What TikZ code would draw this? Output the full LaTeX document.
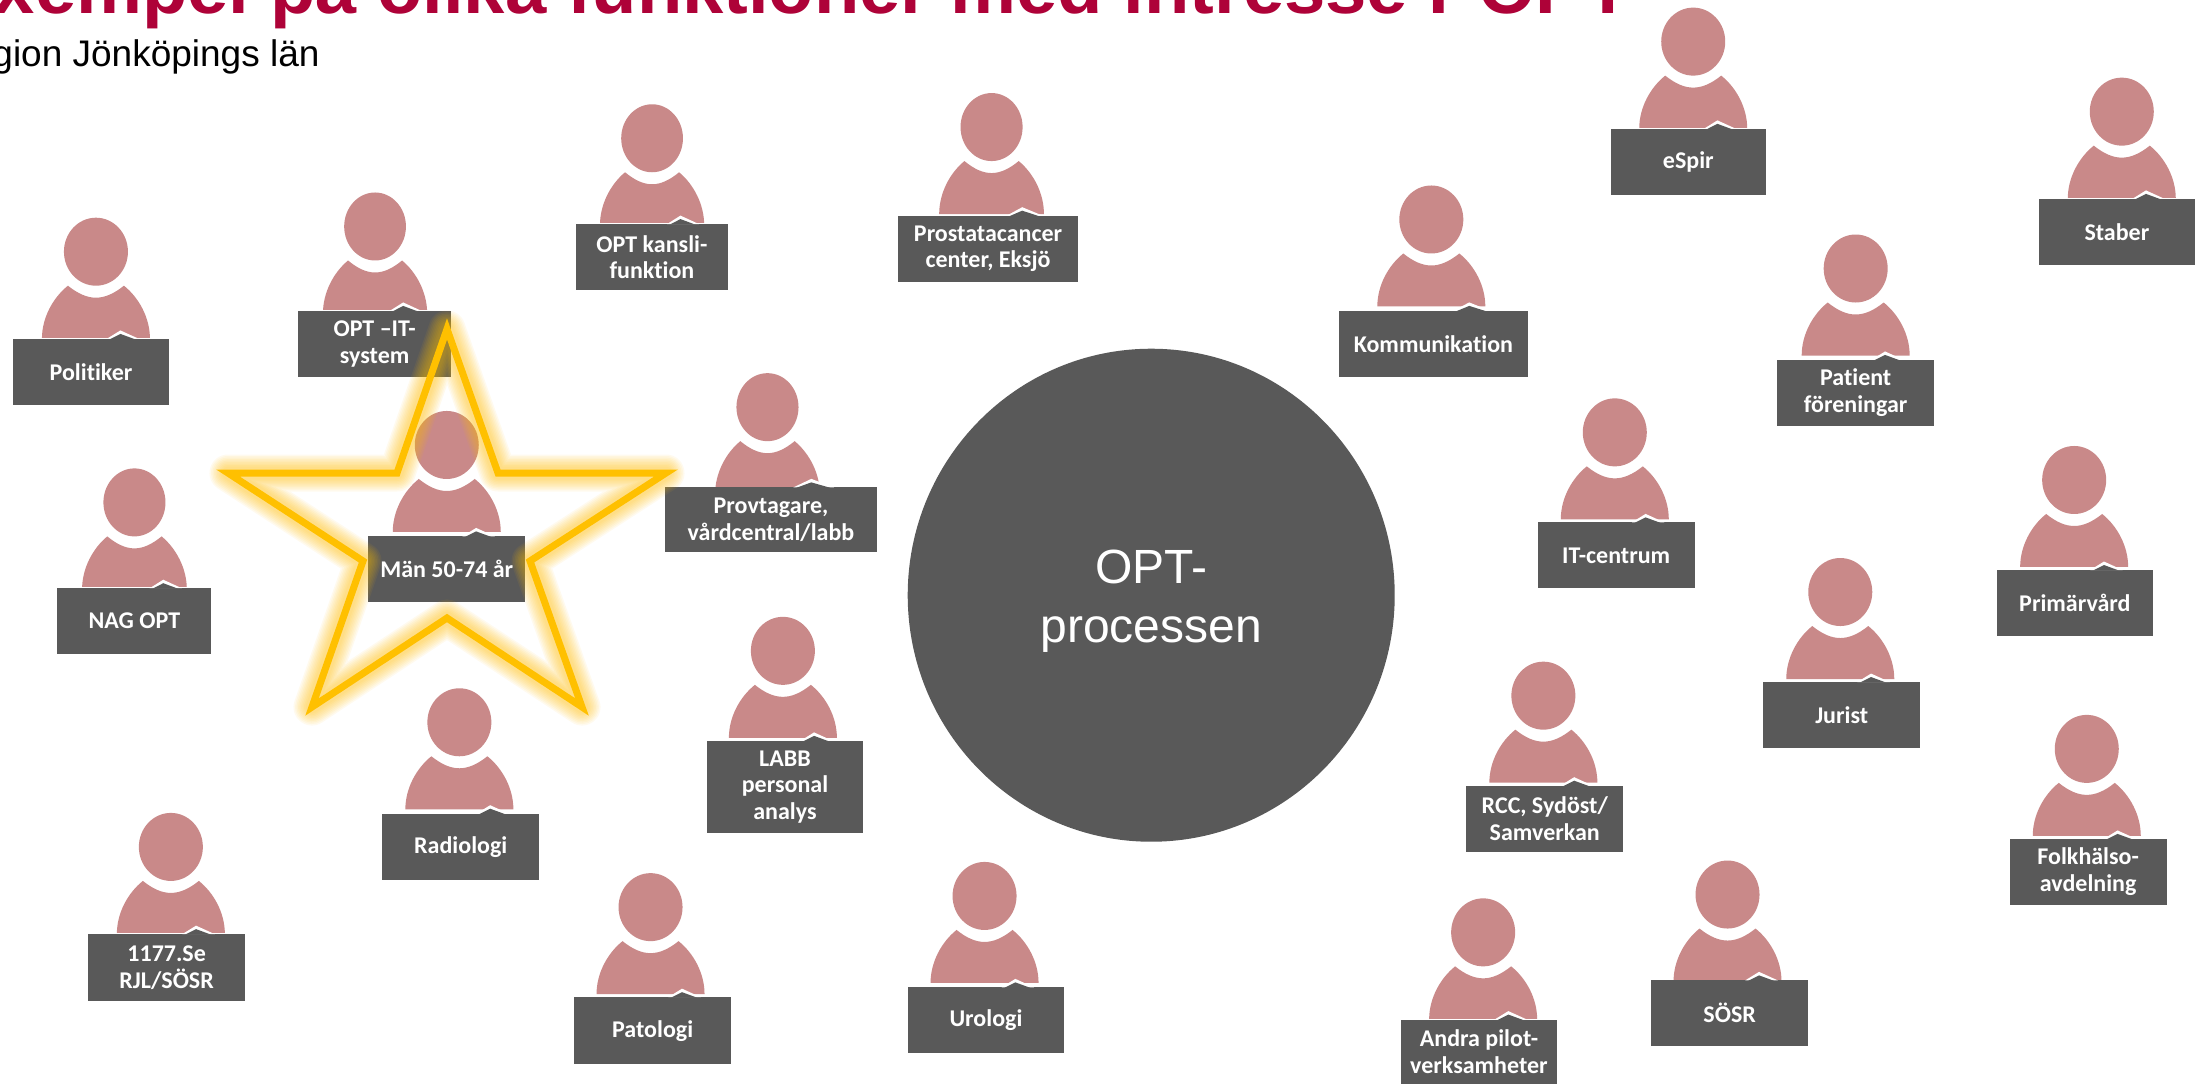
\documentclass[tikz,border=0pt]{standalone}
\usetikzlibrary{shapes.geometric}
\usepackage{fontspec}
\setmainfont{Liberation Sans}
\newfontfamily\labelfont[Ligatures=NoCommon]{Carlito}
\definecolor{rosebody}{HTML}{C98989}
\definecolor{boxgrey}{HTML}{595959}
\definecolor{titlered}{HTML}{AE0238}
\definecolor{stargold}{HTML}{FFC000}
\tikzset{
  labelbox/.style={fill=boxgrey,text=white,inner sep=0pt,align=center,
    font=\labelfont\bfseries\fontsize{24}{26.5}\selectfont},
  hub/.style={ellipse,fill=boxgrey,text=white,inner sep=0pt,minimum width=487pt,minimum height=493pt,align=center,
    font=\fontsize{48}{59}\selectfont},
  personfill/.style={fill=rosebody,draw=none},
  starpath/.style={line join=miter,miter limit=10},
}
\def\pw{1}
\newcommand{\person}[8]{%
  \begin{scope}[shift={(#2,#3)},x=\pw pt,y=-1pt]
    \fill[personfill] (0,1) ellipse [x radius=32,y radius=34];
    \fill[personfill] (-54,88) .. controls (-54,67) and (-43,47) .. (-28,35)
      .. controls (-18,43) and (-9,47) .. (0,47)
      .. controls (9,47) and (18,43) .. (28,35)
      .. controls (43,47) and (54,67) .. (54,88) -- cycle;
  \end{scope}
  \pgfmathsetmacro{\bxc}{(#4+#5)/2}%
  \pgfmathsetmacro{\byc}{(#6+#7)/2}%
  \pgfmathsetmacro{\bxw}{(#5-#4)*1.4005}%
  \pgfmathsetmacro{\byh}{(#7-#6)*1.4005}%
  \pgfmathsetmacro{\nx}{#4+0.7*(#5-#4)}%
  \pgfmathsetmacro{\nh}{(#5-#4)*0.105}%
  \draw[white,line width=1.6pt] (#4,#6) -- (#5,#6);
  \node[labelbox,minimum width=\bxw pt,minimum height=\byh pt] (#1) at (\bxc,\byc) {#8};
  \begin{scope}[shift={(\nx,#6)},x=1pt,y=-1pt]
    \fill[white] (-\nh-4,0) -- (-2,-8.5) -- (\nh+5,0) -- cycle;
    \fill[boxgrey] (-\nh-1,0.4) -- (-2,-5) -- (\nh+1,0.4) -- cycle;
  \end{scope}
}
\begin{document}
\begin{tikzpicture}[x=1.4005pt,y=-1.4005pt]
\useasboundingbox (0,0) rectangle (1568,774);
\clip (0,0) rectangle (1568,774);
\fill[white] (0,0) rectangle (1568,774);
\node[anchor=base east,inner sep=0pt,text=titlered,font=\bfseries\fontsize{74.2}{80}\selectfont] (title) at (1164.6,9.7) {Exempel på olika funktioner med intresse POPT};
\node[anchor=base east,inner sep=0pt,text=black,font=\fontsize{37}{44}\selectfont] (subtitle) at (228.3,47.8) {Region Jönköpings län};
\node[hub] (hubnode) at (822,425) {\rule{0pt}{46pt}OPT-\\processen};
\person{politiker}{68.5}{179}{9}{121}{242}{289}{Politiker}
\def\pw{0.965}
\person{optit}{267.8}{161}{213}{322}{222}{269}{OPT –IT-\\system}
\person{kansli}{465.6}{98}{411}{520}{160}{207}{OPT kansli-\\funktion}
\def\pw{0.97}
\person{prostata}{708}{90}{641}{770}{154}{201}{Prostatacancer\\center, Eksjö}
\person{provtagare}{548}{290}{475}{626}{348}{394}{Provtagare,\\vårdcentral/labb}
\def\pw{1}
\person{man}{319}{317}{263}{375}{383}{430}{Män 50-74 år}
\def\pw{0.97}
\person{nag}{96}{358}{41}{151}{420}{467}{NAG OPT}
\def\pw{1}
\person{radiologi}{328}{515}{273}{385}{581}{628}{Radiologi}
\person{labb}{559}{464}{505}{616}{529}{595}{LABB\\personal\\analys}
\person{elvasju}{122}{604}{63}{175}{667}{715}{1177.Se\\RJL/SÖSR}
\person{patologi}{464.5}{647}{410}{522}{712}{760}{Patologi}
\person{urologi}{703}{639}{648}{760}{705}{752}{Urologi}
\person{andra}{1059}{665}{1000}{1112}{728}{774}{Andra pilot-\\verksamheter}
\person{sosr}{1233.5}{638}{1179}{1291}{700}{747}{SÖSR}
\person{rcc}{1102}{496}{1047}{1159}{561}{608}{RCC, Sydöst/\\Samverkan}
\person{jurist}{1314}{422}{1259}{1371}{487}{534}{Jurist}
\person{folk}{1490}{534}{1435}{1547}{599}{646}{Folkhälso-\\avdelning}
\person{primar}{1481}{342}{1426}{1537}{407}{454}{Primärvård}
\person{itc}{1153}{308}{1098}{1210}{373}{420}{IT-centrum}
\person{patient}{1325}{191}{1269}{1381}{257}{304}{Patient\\föreningar}
\person{komm}{1022}{156}{956}{1091}{222}{269}{Kommunikation}
\person{espir}{1209}{29}{1150}{1261}{92}{139}{eSpir}
\person{staber}{1515}{79}{1456}{1567}{142}{189}{Staber}
% star in reference pixels
\begin{scope}[x=1pt,y=-1pt]
  \foreach \w in {37,34,31,28,25,22,19,16,13}{
    \draw[stargold,line width=\w pt,opacity=0.065,line join=round]
      (447,329) -- (498,473) -- (666,473) -- (530,561) -- (582,707) -- (447,618)
      -- (312,707) -- (363,561) -- (228,473) -- (397,473) -- cycle;
  }
  \draw[stargold,line width=7pt,starpath]
    (447,329) -- (498,473) -- (666,473) -- (530,561) -- (582,707) -- (447,618)
    -- (312,707) -- (363,561) -- (228,473) -- (397,473) -- cycle;
\end{scope}
\end{tikzpicture}
\end{document}
